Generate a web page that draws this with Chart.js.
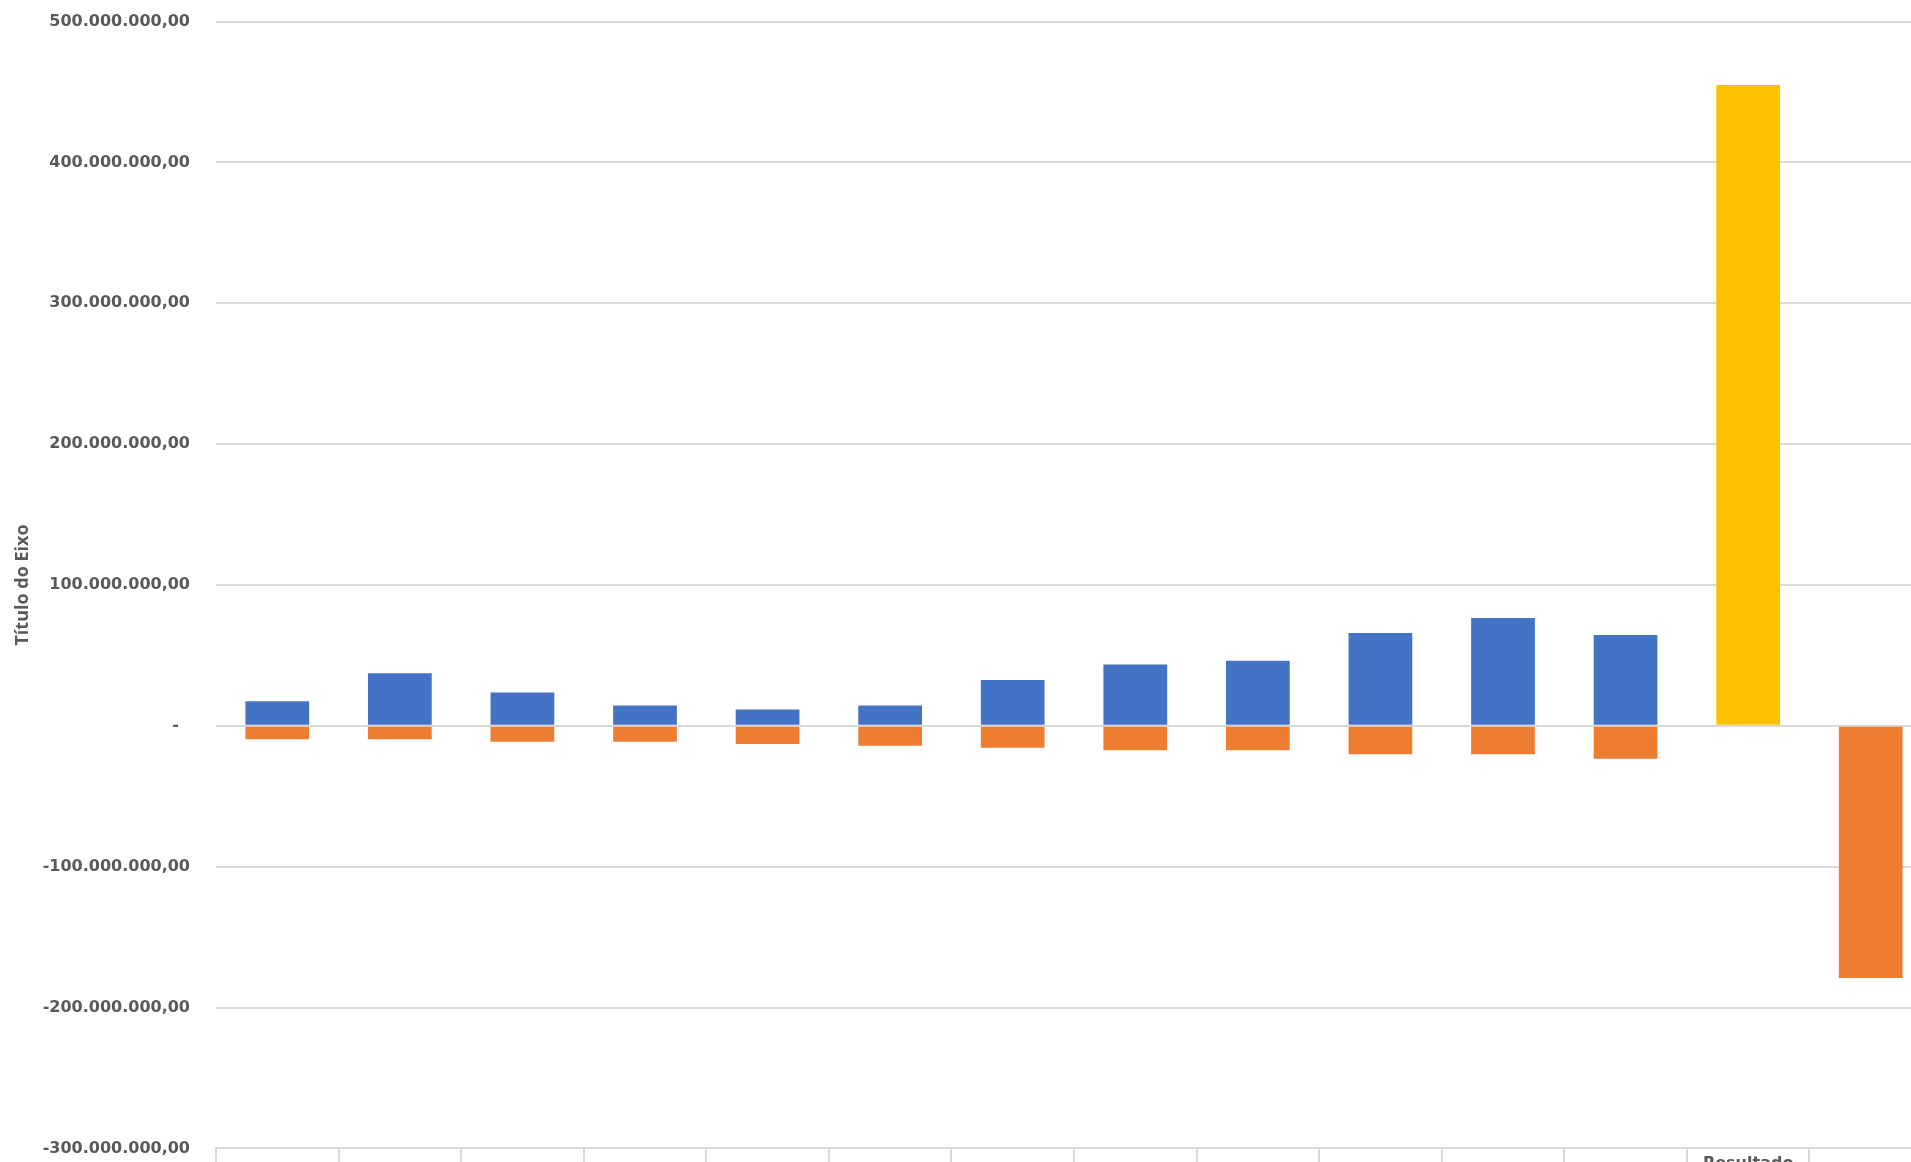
<!DOCTYPE html>
<html lang="pt-BR">
<head>
<meta charset="utf-8">
<title>Receitas e despesas</title>
<script src="https://cdn.jsdelivr.net/npm/chart.js@4.4.1/dist/chart.umd.min.js"></script>
<style>
    html, body {
        margin: 0;
        padding: 0;
        background: #ffffff;
        overflow: hidden;
    }
    #wrap {
        position: relative;
        width: 1932px;
        height: 1198px;
        margin-top: -14px;
    }
</style>
</head>
<body>
<div id="wrap"><canvas id="chart"></canvas></div>
<script>
// categories (only the "Resultado" label is readable in the picture)
const categories = ['', '', '', '', '', '', '', '', '', '', '', '', ['Resultado'], ''];

// series values
const receitas = [17.5e6, 37.4e6, 23.6e6, 14.4e6, 11.6e6, 14.4e6, 32.6e6, 43.5e6, 46.3e6, 66.0e6, 76.6e6, 64.5e6, null, null];
const despesas = [-9.5e6, -9.5e6, -11.3e6, -11.3e6, -12.8e6, -14.2e6, -15.6e6, -17.3e6, -17.3e6, -20.1e6, -20.1e6, -23.4e6, null, -179e6];
const resultado = [null, null, null, null, null, null, null, null, null, null, null, null, 455e6, null];

// y axis
const yMin = -300e6;
const yMax = 500e6;
const yStep = 100e6;
const yTitle = 'Título do Eixo';

function formatBR(value) {
    if (value === 0) return '-\u2007';
    const neg = value < 0;
    const intPart = Math.round(Math.abs(value)).toString().replace(/\B(?=(\d{3})+(?!\d))/g, '.');
    return (neg ? '-' : '') + intPart + ',00';
}

const gridColor = '#d9d9d9';
const textColor = '#595959';

new Chart(document.getElementById('chart'), {
    type: 'bar',
    data: {
        labels: categories,
        datasets: [
            {
                label: 'Receitas',
                data: receitas,
                backgroundColor: '#4472c4',
                stack: 's'
            },
            {
                label: 'Despesas',
                data: despesas,
                backgroundColor: '#ed7d31',
                stack: 's'
            },
            {
                label: 'Resultado',
                data: resultado,
                backgroundColor: '#ffc000',
                stack: 's'
            }
        ]
    },
    options: {
        responsive: true,
        maintainAspectRatio: false,
        animation: false,
        layout: {
            padding: { top: 0, left: 0, right: 0, bottom: 0 }
        },
        plugins: {
            legend: { display: false },
            tooltip: { enabled: false }
        },
        datasets: {
            bar: {
                barPercentage: 0.52,
                categoryPercentage: 1.0,
                borderWidth: 0
            }
        },
        scales: {
            x: {
                stacked: true,
                grid: {
                    display: true,
                    drawOnChartArea: false,
                    drawTicks: true,
                    tickLength: 14,
                    color: gridColor,
                    lineWidth: 2
                },
                border: { display: true, color: gridColor, width: 2 },
                ticks: {
                    color: textColor,
                    font: { family: 'DejaVu Sans', size: 16, weight: 'bold' },
                    maxRotation: 0,
                    autoSkip: false,
                    padding: -8
                }
            },
            y: {
                stacked: true,
                min: yMin,
                max: yMax,
                afterFit: (scale) => { scale.width = 216; },
                grid: {
                    color: gridColor,
                    lineWidth: 2,
                    drawTicks: false
                },
                border: { display: false },
                ticks: {
                    stepSize: yStep,
                    color: textColor,
                    padding: 26,
                    font: { family: 'DejaVu Sans', size: 16, weight: 'bold' },
                    callback: (v) => formatBR(v)
                },
                title: {
                    display: true,
                    text: yTitle,
                    color: textColor,
                    font: { family: 'Open Sans', size: 18, weight: 'bold' },
                    padding: { top: 12, bottom: 0 }
                }
            }
        }
    }
});
</script>
</body>
</html>
